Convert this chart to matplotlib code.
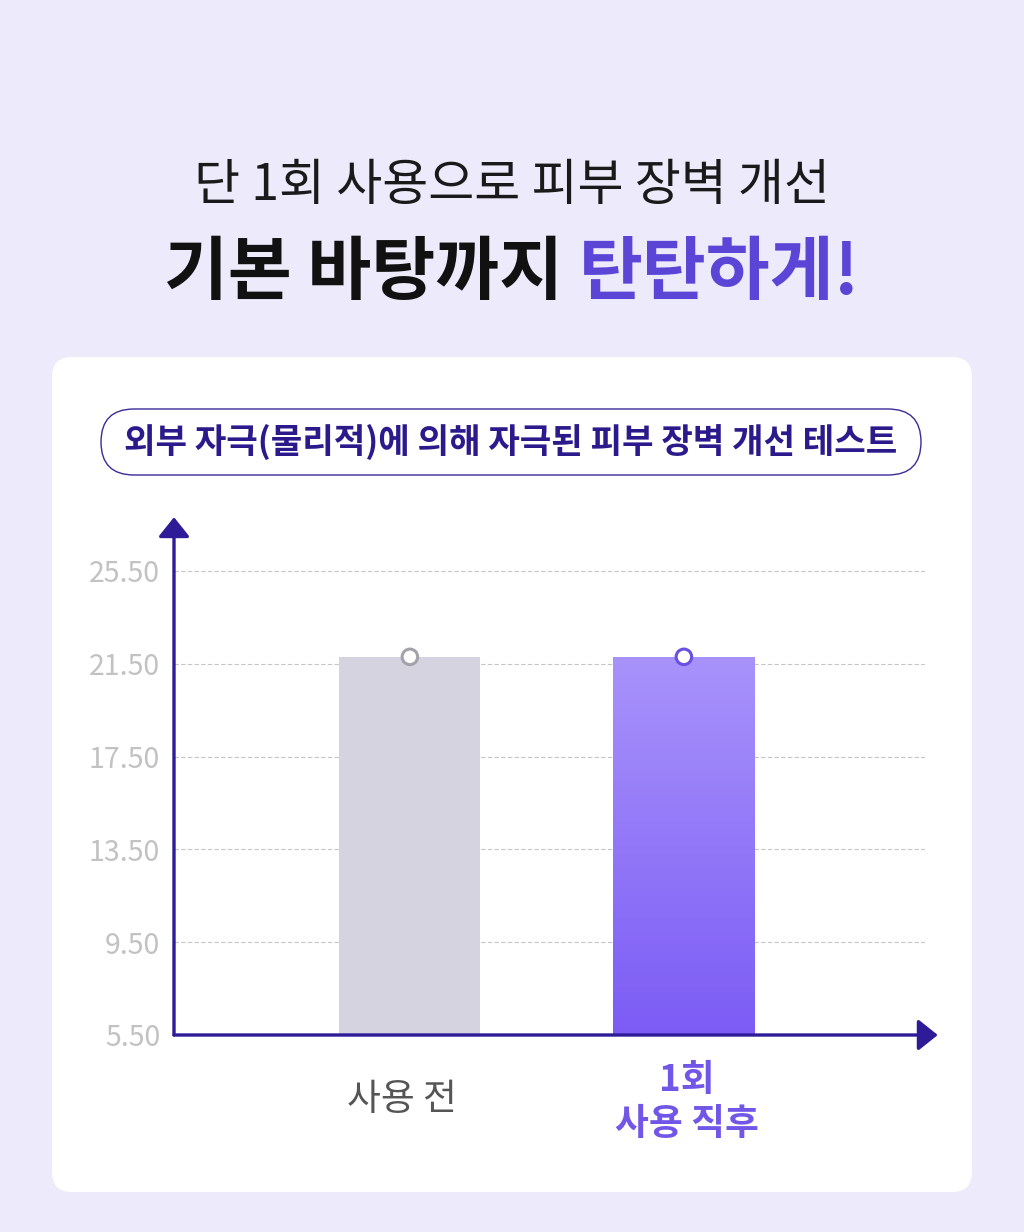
import numpy as np
import matplotlib.pyplot as plt
from matplotlib.patches import FancyBboxPatch
from matplotlib.colors import LinearSegmentedColormap

plt.rcParams['font.family'] = ['Noto Sans CJK KR', 'DejaVu Sans']

# data
categories = ['사용 전', '1회\n사용 직후']
values = [21.8, 21.8]
y_ticks = [5.5, 9.5, 13.5, 17.5, 21.5, 25.5]
y_tick_labels = ['5.50', '9.50', '13.50', '17.50', '21.50', '25.50']
title_top = '단 1회 사용으로 피부 장벽 개선'
title_main = '기본 바탕까지 '
title_accent = '탄탄하게!'
test_label = '외부 자극(물리적)에 의해 자극된 피부 장벽 개선 테스트'

W, H = 1024, 1232
axis_color = '#2D1B98'
purple = '#5B45D6'

fig = plt.figure(figsize=(W / 100, H / 100), dpi=100)
fig.patch.set_facecolor('#ECEAFB')

# background layer in pixel coordinates
bg = fig.add_axes([0, 0, 1, 1])
bg.set_xlim(0, W)
bg.set_ylim(H, 0)
bg.axis('off')

bg.add_patch(FancyBboxPatch((52, 357), 920, 835, boxstyle='round,pad=0,rounding_size=20',
                            fc='white', ec='none'))
bg.add_patch(FancyBboxPatch((101, 409), 820, 66, boxstyle='round,pad=0,rounding_size=33',
                            fc='white', ec='#3A2A9A', lw=1))
bg.text(511, 442, test_label, ha='center', va='center', fontsize=24.7,
        fontweight='bold', color='#2A1A8C')
bg.text(512, 186, title_top, ha='center', va='center', fontsize=36, color='#1A1A1A')

# two-colour headline, centred as one line
r = fig.canvas.get_renderer()
t1 = bg.text(0, 274, title_main, ha='left', va='center', fontsize=50,
             fontweight='heavy', color='#111111')
t2 = bg.text(0, 274, title_accent, ha='left', va='center', fontsize=50,
             fontweight='heavy', color=purple)
w1 = t1.get_window_extent(r).width
w2 = t2.get_window_extent(r).width
x0 = 512 - (w1 + w2) / 2
t1.set_x(x0)
t2.set_x(x0 + w1)

# chart
ax = fig.add_axes([174 / W, (H - 1035) / H, 751 / W, 464 / H])
ax.patch.set_alpha(0)
x = np.arange(len(categories))
ax.set_ylim(y_ticks[0], y_ticks[-1])
ax.set_xlim(-0.861, 1.88)
for s in ax.spines.values():
    s.set_visible(False)

ax.set_yticks(y_ticks, y_tick_labels)
ax.tick_params(axis='y', length=0, pad=10, labelsize=20.5, labelcolor='#C2C2C2')
for lbl in ax.get_yticklabels():
    lbl.set_fontweight('light')
ax.set_xticks([])
ax.yaxis.grid(True, ls=(0, (4, 2)), color='#C6C6C6', lw=0.8)
ax.set_axisbelow(True)

bw = 0.515
bars = ax.bar(x, values, width=bw, color=['#D4D3DF', 'none'], zorder=2)

# gradient fill for the second bar
cmap = LinearSegmentedColormap.from_list('bar', ['#7C5CF5', '#A893FB'])
grad = np.linspace(0, 1, 256).reshape(-1, 1)
im = ax.imshow(grad, cmap=cmap, origin='lower', aspect='auto', zorder=2,
               extent=(x[1] - bw / 2, x[1] + bw / 2, y_ticks[0], values[1]))
im.set_clip_path(bars[1])
ax.set_xlim(-0.861, 1.88)
ax.set_ylim(y_ticks[0], y_ticks[-1])

ax.scatter(x, values, s=125, facecolors='white', edgecolors=['#A3A3AB', '#6A50E0'],
           linewidths=2.2, zorder=5, clip_on=False)

# axes with arrow heads
arrow = dict(arrowstyle='-|>,head_length=0.6,head_width=0.48', color=axis_color,
             lw=2.4, shrinkA=0, shrinkB=0, mutation_scale=20)
ax.annotate('', xy=(0, 1.116), xytext=(0, 0), xycoords='axes fraction',
            arrowprops=arrow, annotation_clip=False)
ax.annotate('', xy=(1.017, 0), xytext=(0, 0), xycoords='axes fraction',
            arrowprops=arrow, annotation_clip=False)

# category labels
tr = ax.get_xaxis_transform()
ax.text(x[0] - 0.03, -0.138, categories[0], transform=tr, ha='center', va='center',
        fontsize=26.5, color='#555555')
ax.text(x[1] + 0.01, -0.145, categories[1], transform=tr, ha='center', va='center',
        fontsize=26.5, fontweight='bold', color='#7256E8', linespacing=1.25)

fig.savefig('out.png', dpi=100, facecolor=fig.get_facecolor())
